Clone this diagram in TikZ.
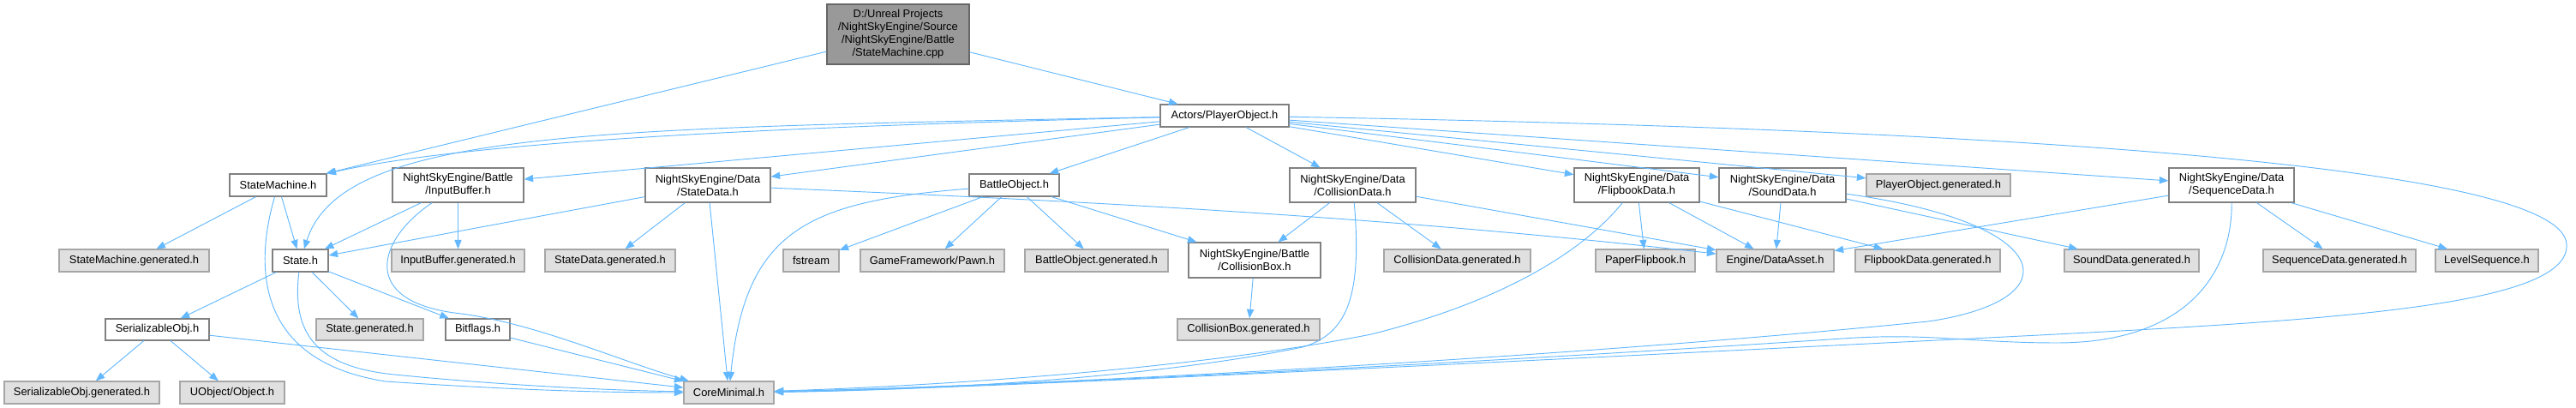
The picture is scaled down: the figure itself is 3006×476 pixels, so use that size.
\documentclass[tikz,border=0pt]{standalone}
\usepackage{fontspec}
\setmainfont{Liberation Sans}
\usetikzlibrary{arrows.meta}
\definecolor{edgeblue}{HTML}{63B8FF}
\definecolor{extgray}{HTML}{E0E0E0}
\definecolor{rootgray}{HTML}{999999}
\tikzset{
  blk/.style={draw=black!50,line width=1pt,fill=white,align=center,inner sep=0pt,
              font=\fontsize{11}{12.8}\selectfont},
  ext/.style={blk,fill=extgray,draw=black!35},
  src/.style={blk,fill=rootgray,draw=black!60},
  sz/.style 2 args={minimum width=#1*0.3mm,minimum height=#2*0.3mm},
  arr/.style={-{Triangle[length=9pt,width=7pt]},line width=0.8pt,edgeblue},
}

\begin{document}
\begin{tikzpicture}[x=0.3mm,y=-0.3mm]
  \useasboundingbox (0,0) rectangle (3006,476);
  % top
  \node[src,sz={166}{70}] (root) at (1048,40) {D:/Unreal Projects\\/NightSkyEngine/Source\\/NightSkyEngine/Battle\\/StateMachine.cpp};
  \node[blk,sz={150}{26}] (player) at (1429,135) {Actors/PlayerObject.h};
  % first row
  \node[blk,sz={113}{26}] (statemachine) at (324.5,216) {StateMachine.h};
  \node[blk,sz={153}{40}] (inputbuffer) at (534.5,216) {NightSkyEngine/Battle\\/InputBuffer.h};
  \node[blk,sz={146}{40}] (statedata) at (826,216) {NightSkyEngine/Data\\/StateData.h};
  \node[blk,sz={105}{26}] (battleobj) at (1183.5,216) {BattleObject.h};
  \node[blk,sz={147}{40}] (colldata) at (1578.5,216) {NightSkyEngine/Data\\/CollisionData.h};
  \node[blk,sz={146}{40}] (flipdata) at (1910,216) {NightSkyEngine/Data\\/FlipbookData.h};
  \node[blk,sz={148}{40}] (sounddata) at (2080,216) {NightSkyEngine/Data\\/SoundData.h};
  \node[ext,sz={168}{26}] (playergen) at (2262,216) {PlayerObject.generated.h};
  \node[blk,sz={146}{40}] (seqdata) at (2604,216) {NightSkyEngine/Data\\/SequenceData.h};
  % second row
  \node[ext,sz={175}{26}] (smgen) at (156.5,304) {StateMachine.generated.h};
  \node[blk,sz={65}{26}] (state) at (350.5,304) {State.h};
  \node[ext,sz={155}{26}] (ibgen) at (534.5,304) {InputBuffer.generated.h};
  \node[ext,sz={152}{26}] (sdgen) at (712,304) {StateData.generated.h};
  \node[ext,sz={65}{26}] (fstream) at (946.5,304) {fstream};
  \node[ext,sz={168}{26}] (pawn) at (1088,304) {GameFramework/Pawn.h};
  \node[ext,sz={167}{26}] (bogen) at (1279.5,304) {BattleObject.generated.h};
  \node[blk,sz={154}{41}] (collbox) at (1464,303.5) {NightSkyEngine/Battle\\/CollisionBox.h};
  \node[ext,sz={171}{26}] (cdgen) at (1700.5,304) {CollisionData.generated.h};
  \node[ext,sz={116}{26}] (paperflip) at (1920,304) {PaperFlipbook.h};
  \node[ext,sz={137}{26}] (dataasset) at (2071.5,304) {Engine/DataAsset.h};
  \node[ext,sz={169}{26}] (fdgen) at (2249.5,304) {FlipbookData.generated.h};
  \node[ext,sz={157}{26}] (sndgen) at (2487.5,304) {SoundData.generated.h};
  \node[ext,sz={178}{26}] (seqgen) at (2730,304) {SequenceData.generated.h};
  \node[ext,sz={120}{26}] (levelseq) at (2902,304) {LevelSequence.h};
  % third row
  \node[blk,sz={121}{25}] (serial) at (183.5,384.5) {SerializableObj.h};
  \node[ext,sz={125}{25}] (stategen) at (431.5,384.5) {State.generated.h};
  \node[blk,sz={75}{25}] (bitflags) at (557.5,384.5) {Bitflags.h};
  \node[ext,sz={166}{25}] (cbgen) at (1457,384.5) {CollisionBox.generated.h};
  % bottom row
  \node[ext,sz={181}{26}] (serialgen) at (95.5,458) {SerializableObj.generated.h};
  \node[ext,sz={122}{26}] (uobject) at (271,458) {UObject/Object.h};
  \node[ext,sz={105}{26}] (core) at (850.5,458) {CoreMinimal.h};

  \foreach \a/\b in {root/statemachine, root/player,
      player/inputbuffer, player/statedata, player/battleobj, player/colldata,
      player/flipdata, player/sounddata, player/playergen, player/seqdata,
      statemachine/smgen, statemachine/state,
      inputbuffer/state, inputbuffer/ibgen,
      statedata/state, statedata/sdgen, statedata/core,
      battleobj/fstream, battleobj/pawn, battleobj/bogen, battleobj/collbox,
      colldata/collbox, colldata/cdgen, colldata/dataasset,
      flipdata/paperflip, flipdata/dataasset, flipdata/fdgen,
      sounddata/dataasset, sounddata/sndgen,
      seqdata/dataasset, seqdata/seqgen, seqdata/levelseq,
      collbox/cbgen, state/serial, state/stategen, state/bitflags,
      serial/serialgen, serial/uobject, serial/core, bitflags/core}
    \draw[arr] (\a) -- (\b);

  % curved ones
  \draw[arr] (player) .. controls (900,148) and (550,165) .. (statemachine.north east);
  \draw[arr] (player) .. controls (700,150) and (400,150) .. (state);
  \draw[arr] (statedata) .. controls (1200,232) and (1600,250) .. (dataasset);
  \draw[arr] (statemachine) .. controls (300,300) and (290,420) .. (450,445)
             .. controls (600,455) and (700,458) .. (core);
  \draw[arr] (state) .. controls (340,390) and (370,428) .. (460,437)
             .. controls (580,449) and (700,455) .. (core);
  \draw[arr] (inputbuffer) .. controls (440,280) and (420,350) .. (530,365)
             .. controls (620,375) and (720,420) .. (core);
  \draw[arr] (battleobj) .. controls (940,235) and (870,270) .. (core);
  \draw[arr] (colldata) .. controls (1590,350) and (1570,390) .. (1520,405)
             .. controls (1350,440) and (1100,455) .. (core);
  \draw[arr] (flipdata) .. controls (1850,290) and (1760,350) .. (1600,390)
             .. controls (1400,430) and (1100,450) .. (core);
  \draw[arr] (sounddata) .. controls (2400,260) and (2420,350) .. (2250,375)
             .. controls (1800,420) and (1200,450) .. (core);
  \draw[arr] (seqdata) .. controls (2605,320) and (2550,400) .. (2400,400)
             .. controls (2300,400) and (2250,388) .. (2150,395)
             .. controls (1700,425) and (1200,450) .. (core);
  \draw[arr] (player) .. controls (2300,150) and (2990,190) .. (2995,285)
             .. controls (3000,360) and (2700,375) .. (2300,395)
             .. controls (1700,425) and (1100,455) .. (core);
\end{tikzpicture}
\end{document}
